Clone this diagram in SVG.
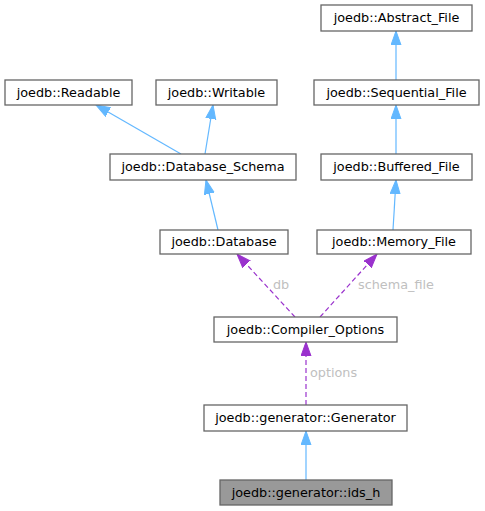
<svg xmlns="http://www.w3.org/2000/svg" width="485" height="511" viewBox="0 0 485 511">
<style>
.n rect{fill:#ffffff;stroke:#666666;stroke-width:1.3}
.n.hl rect{fill:#999999}
.n text{font-family:"DejaVu Sans",sans-serif;font-size:12.8px;fill:#000;text-anchor:middle}
.inh{stroke:#63b8ff;stroke-width:1.2;fill:none;marker-end:url(#ab)}
.col{stroke:#9a32cd;stroke-width:1.2;fill:none;stroke-dasharray:5,3;marker-end:url(#ap)}
.lbl{font-family:"DejaVu Sans",sans-serif;font-size:12.8px;fill:#c0c0c0}
</style>
<defs>
<marker id="ab" markerUnits="userSpaceOnUse" markerWidth="15" markerHeight="12" refX="14" refY="5.5" orient="auto" viewBox="0 0 15 12"><path d="M0,0.5 L14,5.5 L0,10.5 z" fill="#63b8ff" stroke="#63b8ff"/></marker>
<marker id="ap" markerUnits="userSpaceOnUse" markerWidth="15" markerHeight="12" refX="14" refY="5.5" orient="auto" viewBox="0 0 15 12"><path d="M0,0.5 L14,5.5 L0,10.5 z" fill="#9a32cd" stroke="#9a32cd"/></marker>
</defs>
<g id="edges">
<path class="inh" d="M396,80 L396,31"/>
<path class="inh" d="M181,154 L96,105"/>
<path class="inh" d="M205,154 L213,105"/>
<path class="inh" d="M396,154 L396,105"/>
<path class="inh" d="M218,230 L206,180"/>
<path class="inh" d="M393,230 L396,180"/>
<path class="col" d="M295,317 L237,254"/>
<path class="col" d="M320,317 L377,254"/>
<path class="col" d="M306,405 L306,342"/>
<path class="inh" d="M306,480 L306,431"/>
<text class="lbl" x="273" y="289">db</text>
<text class="lbl" x="358" y="289">schema_file</text>
<text class="lbl" x="310" y="377">options</text>
</g>
<g id="abstract_file" class="n"><rect x="321" y="5" width="151" height="26"/><text x="396.5" y="22">joedb::Abstract_File</text></g>
<g id="readable" class="n"><rect x="5" y="80" width="127" height="25"/><text x="68.5" y="96.5">joedb::Readable</text></g>
<g id="writable" class="n"><rect x="156" y="80" width="121" height="25"/><text x="216.5" y="96.5">joedb::Writable</text></g>
<g id="sequential_file" class="n"><rect x="314" y="80" width="165" height="25"/><text x="396.5" y="96.5">joedb::Sequential_File</text></g>
<g id="database_schema" class="n"><rect x="110" y="154" width="186" height="26"/><text x="203" y="171">joedb::Database_Schema</text></g>
<g id="buffered_file" class="n"><rect x="321" y="154" width="151" height="26"/><text x="396.5" y="171">joedb::Buffered_File</text></g>
<g id="database" class="n"><rect x="160" y="230" width="128" height="24"/><text x="224" y="246">joedb::Database</text></g>
<g id="memory_file" class="n"><rect x="317" y="230" width="154" height="24"/><text x="394" y="246">joedb::Memory_File</text></g>
<g id="compiler_options" class="n"><rect x="214" y="317" width="183" height="25"/><text x="305.5" y="333.5">joedb::Compiler_Options</text></g>
<g id="generator" class="n"><rect x="204" y="405" width="203" height="26"/><text x="305.5" y="422">joedb::generator::Generator</text></g>
<g id="ids_h" class="n hl"><rect x="220" y="480" width="172" height="25"/><text x="306" y="496.5">joedb::generator::ids_h</text></g>
</svg>
